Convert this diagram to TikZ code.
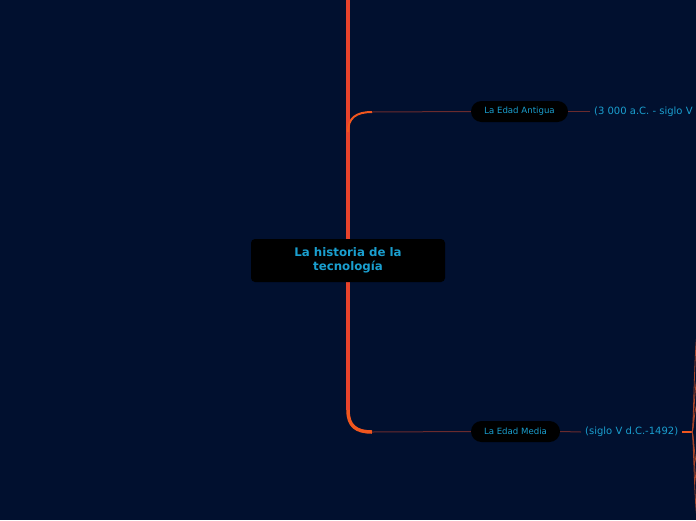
\documentclass[tikz,border=0pt]{standalone}
\usepackage{fontspec}
\setmainfont{DejaVu Sans}
\definecolor{bg}{HTML}{01102F}
\definecolor{txt}{HTML}{1A9FCF}
\definecolor{mainline}{HTML}{E8432C}
\definecolor{mainline2}{HTML}{F0561E}
\definecolor{thin}{HTML}{6A2B2E}
\definecolor{fan}{HTML}{A8442A}
\begin{document}
\begin{tikzpicture}[x=1pt,y=-1pt,
  central/.style={fill=black,rounded corners=4pt,minimum width=194pt,minimum height=43pt,inner sep=0pt,align=center,text=txt,font=\fontsize{11.8}{14.5}\selectfont\bfseries},
  pill/.style={fill=black,rounded corners=10.5pt,minimum height=21pt,inner sep=0pt,text=txt,font=\fontsize{8.6}{10}\selectfont},
  note/.style={inner sep=0pt,anchor=west,text=txt,font=\fontsize{10}{11}\selectfont},
  mainstroke/.style={draw=mainline,line width=4.5pt},
  thinstroke/.style={draw=thin,line width=1pt},
  fanstroke/.style={draw=fan,line width=0.8pt}]
\fill[bg] (0,0) rectangle (696,520);
\useasboundingbox (0,0) rectangle (696,520);
\clip (0,0) rectangle (696,520);
\coordinate (top) at (348,-2);
\coordinate (antb) at (348,132);
\coordinate (medb) at (348,410);
\coordinate (antc) at (372,112);
\coordinate (medc) at (372,432);
% main trunk
\draw[mainstroke] (top) -- (medb);
\draw[draw=mainline2,line width=3.5pt] (medb) .. controls (348,426) and (356,432) .. (medc);
\draw[draw=mainline2,line width=2pt] (antb) .. controls (348,118) and (356,112) .. (antc);
\node[central] (c) at (348,260.5) {\raisebox{-1.5pt}{\begin{tabular}{@{}c@{}}La historia de la\\[-1pt]tecnología\end{tabular}}};
\node[pill,minimum width=97pt] (ant) at (519.5,111.5) {La Edad Antigua};
\node[pill,minimum width=89pt] (med) at (515.5,431.5) {La Edad Media};
\draw[thinstroke] (antc) -- (ant.west);
\draw[thinstroke] (medc) -- (med.west);
\node[note] (antn) at (594,111.5) {(3 000 a.C. - siglo V d.C.)};
\node[note] (medn) at (585,432) {(siglo V d.C.-1492)};
\draw[thinstroke] (ant.east) -- ([xshift=-4pt]antn.west);
\draw[thinstroke] (med.east) -- ([xshift=-4pt]medn.west);
\coordinate (fo) at (692,432);
\draw[draw=mainline2,line width=1.5pt] ([xshift=4pt]medn.east) -- (fo);
\foreach \ty in {320,370,400,470,495,530}{
  \draw[fanstroke] (fo) .. controls (694,432) and (694,\ty) .. (700,\ty);
}
\end{tikzpicture}
\end{document}
